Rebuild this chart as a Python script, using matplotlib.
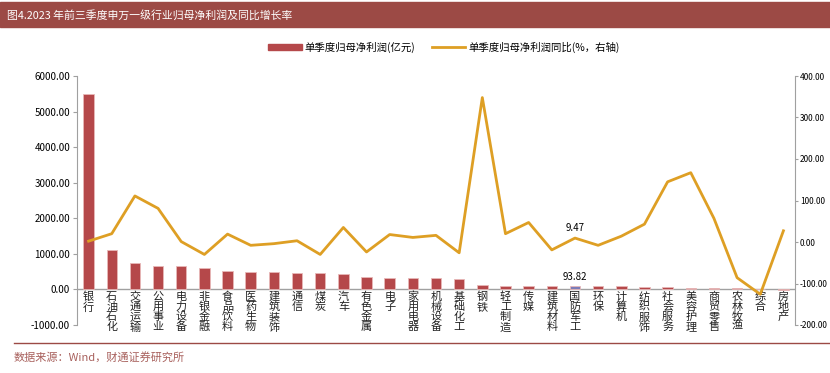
import numpy as np
import matplotlib.pyplot as plt
from matplotlib.patches import Rectangle
from matplotlib.lines import Line2D

plt.rcParams['font.family'] = ['Noto Sans CJK SC', 'DejaVu Sans']

industries = ['银行', '石油石化', '交通运输', '公用事业', '电力设备', '非银金融', '食品饮料',
              '医药生物', '建筑装饰', '通信', '煤炭', '汽车', '有色金属', '电子', '家用电器',
              '机械设备', '基础化工', '钢铁', '轻工制造', '传媒', '建筑材料', '国防军工', '环保',
              '计算机', '纺织服饰', '社会服务', '美容护理', '商贸零售', '农林牧渔', '综合', '房地产']
# 单季度归母净利润(亿元)
profit = [5490, 1100, 740, 665, 655, 600, 515, 487, 480, 470, 450, 420, 345, 335, 310,
          310, 300, 112, 110, 110, 100, 93.82, 90, 85, 80, 60, 50, 40, 35, 5, -10]
# 同比(%)
growth = [2, 20, 111, 81, 1, -30, 19, -8, -4, 3, -30, 35, -24, 18, 11,
          16, -26, 348, 20, 47, -19, 9.47, -8, 14, 43, 145, 167, 57, -86, -126, 27]
highlight = '国防军工'

bar_color = '#B5484A'
hl_color = '#7C7CB8'
line_color = '#DE9F24'
dark_red = '#9C4A45'

fig = plt.figure(figsize=(8.3, 3.73), dpi=100)

# title bar
fig.patches.append(Rectangle((0, 1 - 27 / 373), 1, 25 / 373, transform=fig.transFigure,
                             color=dark_red, zorder=0))
fig.text(0.008, 1 - 15 / 373, '图4.2023 年前三季度申万一级行业归母净利润及同比增长率',
         color='white', fontsize=7.8, va='center', ha='left')

# footer
fig.add_artist(Line2D([14 / 830, 1], [1 - 343 / 373] * 2, transform=fig.transFigure,
                      color=dark_red, lw=1))
fig.text(14 / 830, 1 - 357 / 373, '数据来源：Wind，财通证券研究所', color='#A8605C',
         fontsize=8, va='center', ha='left')

ax = fig.add_axes([77 / 830, 1 - 325 / 373, (795 - 77) / 830, (325 - 76) / 373])
x = np.arange(len(industries))
colors = [hl_color if n == highlight else bar_color for n in industries]
ax.bar(x, profit, width=0.45, color=colors, edgecolor='#E8B8B8', linewidth=0.6, zorder=2)
ax.set_xlim(-0.5, len(industries) - 0.5)
ax.set_ylim(-1000, 6000)
left_ticks = np.arange(-1000, 6001, 1000)
ax.set_yticks(left_ticks)
ax.set_yticklabels([f'{v:.2f}' for v in left_ticks])
ax.axhline(0, color='#A0A0A0', lw=1, zorder=1)
ax.set_xticks([])
for i, name in enumerate(industries):
    ax.text(i, -60, '\n'.join(name), ha='center', va='top', fontsize=8,
            linespacing=1.0, color='#222222')

for s in ['top', 'right', 'bottom']:
    ax.spines[s].set_visible(False)
ax.spines['left'].set_color('#A0A0A0')
ax.tick_params(axis='y', labelsize=7, color='#A0A0A0', length=3, pad=2)

hi = industries.index(highlight)
ax.text(hi, profit[hi] + 120, f'{profit[hi]:.2f}', ha='center', va='bottom', fontsize=7)

ax2 = ax.twinx()
ax2.plot(x, growth, color=line_color, lw=2, zorder=3)
ax2.set_ylim(-200, 400)
right_ticks = np.arange(-200, 401, 100)
ax2.set_yticks(right_ticks)
ax2.set_yticklabels([f'{v:.2f}' for v in right_ticks])
for s in ['top', 'left', 'bottom']:
    ax2.spines[s].set_visible(False)
ax2.spines['right'].set_color('#A0A0A0')
ax2.tick_params(axis='y', labelsize=6, color='#A0A0A0', length=2.5, pad=1)
ax2.text(hi, growth[hi] + 12, f'{growth[hi]:.2f}', ha='center', va='bottom', fontsize=7)

handles = [Rectangle((0, 0), 1, 0.5, color=bar_color),
           Line2D([0], [0], color=line_color, lw=2)]
labels = ['单季度归母净利润(亿元)', '单季度归母净利润同比(%，右轴)']
fig.legend(handles, labels, loc='center', bbox_to_anchor=(0.535, 1 - 47 / 373), ncol=2,
           frameon=False, fontsize=7.5, handlelength=3.2, handleheight=0.5,
           columnspacing=1.6, handletextpad=0.3)

fig.savefig('out.png', dpi=100)
